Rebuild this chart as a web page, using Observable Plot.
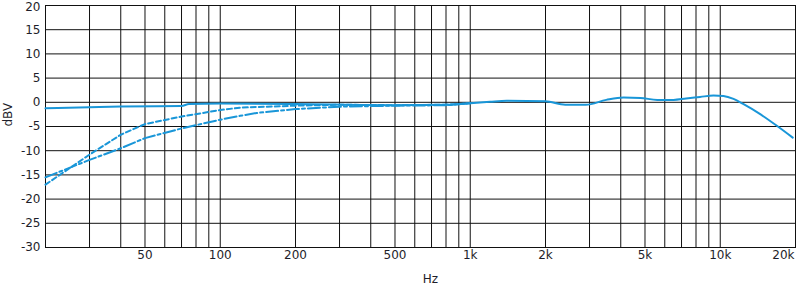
<!DOCTYPE html>
<html>
<head>
<meta charset="utf-8">
<script src="https://cdn.jsdelivr.net/npm/d3@7"></script>
<script src="https://cdn.jsdelivr.net/npm/@observablehq/plot@0.6"></script>
<style>
  html, body { margin: 0; padding: 0; background: #fff; }
</style>
</head>
<body>
<div id="chart"></div>
<script>
// Frequency response, three settings
const solidFreq = [20, 30, 40, 70, 75, 100, 200, 500, 800, 1000, 1200, 1400, 2000, 2400, 2900, 3500, 4100, 4800, 5600, 6500, 7300, 8300, 9400, 10300, 11300, 12400, 14500, 17000, 19500];
const solidDb   = [-1.25, -1.0, -0.85, -0.75, -0.35, -0.25, -0.35, -0.6, -0.5, -0.2, 0.1, 0.3, 0.2, -0.5, -0.5, 0.5, 1.0, 0.9, 0.5, 0.5, 0.8, 1.1, 1.4, 1.3, 0.7, -0.4, -2.5, -5.0, -7.3];

const dashedFreq = [20, 25, 30, 40, 50, 70, 100, 120, 200, 300, 500, 800, 1000];
const dashedDb   = [-17.0, -13.6, -10.8, -6.7, -4.5, -2.95, -1.6, -1.1, -0.7, -0.5, -0.6, -0.5, -0.2];

const dashDotFreq = [20, 30, 40, 50, 70, 100, 120, 140, 200, 300, 500, 800, 1000];
const dashDotDb   = [-15.5, -11.9, -9.5, -7.4, -5.4, -3.6, -2.8, -2.2, -1.4, -0.9, -0.7, -0.6, -0.2];

const xTickValues = [50, 100, 200, 500, 1000, 2000, 5000, 10000, 20000];
const xTickLabels = ["50", "100", "200", "500", "1k", "2k", "5k", "10k", "20k"];
const yTickValues = [-30, -25, -20, -15, -10, -5, 0, 5, 10, 15, 20];

const gridFreqs = [];
for (const dec of [10, 100, 1000, 10000]) for (let m = 1; m <= 9; m++) {
  const f = dec * m; if (f >= 20 && f <= 20000) gridFreqs.push(f);
}

const toRows = (fs, ds) => fs.map((f, i) => ({f, db: ds[i]}));
const xLabelRows = xTickValues.map((v, i) => ({v, label: xTickLabels[i], last: i === xTickValues.length - 1}));
const yLabelRows = yTickValues.map((v) => ({v, label: String(v), top: v === 20}));
const blue = "#1996d8";
const ink = "#1e1e2a";

const chart = Plot.plot({
  width: 800,
  height: 289,
  marginLeft: 45,
  marginRight: 5,
  marginTop: 5,
  marginBottom: 42,
  style: {fontFamily: "DejaVu Sans, Verdana, sans-serif", fontSize: "12px", color: ink, background: "#fff"},
  x: {type: "log", domain: [20, 20000], axis: null},
  y: {domain: [-30, 20], axis: null},
  marks: [
    Plot.ruleX(gridFreqs, {stroke: "#111", strokeWidth: 1}),
    Plot.ruleY(yTickValues, {stroke: "#111", strokeWidth: 1}),
    Plot.frame({stroke: "#111"}),
    Plot.text(yLabelRows.filter(d => !d.top), {y: "v", frameAnchor: "left", dx: -5, text: "label", textAnchor: "end", fontSize: 12, fill: ink}),
    Plot.text(yLabelRows.filter(d => d.top), {y: "v", frameAnchor: "left", dx: -5, dy: 2, text: "label", textAnchor: "end", fontSize: 12, fill: ink}),
    Plot.text(xLabelRows.filter(d => !d.last), {x: "v", frameAnchor: "bottom", dy: 11, text: "label", fontSize: 12, fill: ink}),
    Plot.text(xLabelRows.filter(d => d.last), {x: "v", frameAnchor: "bottom", dy: 11, dx: -1, text: "label", textAnchor: "end", fontSize: 12, fill: ink}),
    Plot.line(toRows(dashedFreq, dashedDb), {x: "f", y: "db", stroke: blue, strokeWidth: 2, strokeDasharray: "5,3"}),
    Plot.line(toRows(dashDotFreq, dashDotDb), {x: "f", y: "db", stroke: blue, strokeWidth: 2, strokeDasharray: "12,3,3,3"}),
    Plot.line(toRows(solidFreq, solidDb), {x: "f", y: "db", stroke: blue, strokeWidth: 2, curve: "monotone-x"}),
    Plot.text(["dBV"], {frameAnchor: "left", dx: -37, rotate: -90, fontSize: 12, fill: ink}),
    Plot.text(["Hz"], {frameAnchor: "bottom", dx: 10, dy: 35, fontSize: 12, fill: ink})
  ]
});
document.getElementById("chart").appendChild(chart);
</script>
</body>
</html>
